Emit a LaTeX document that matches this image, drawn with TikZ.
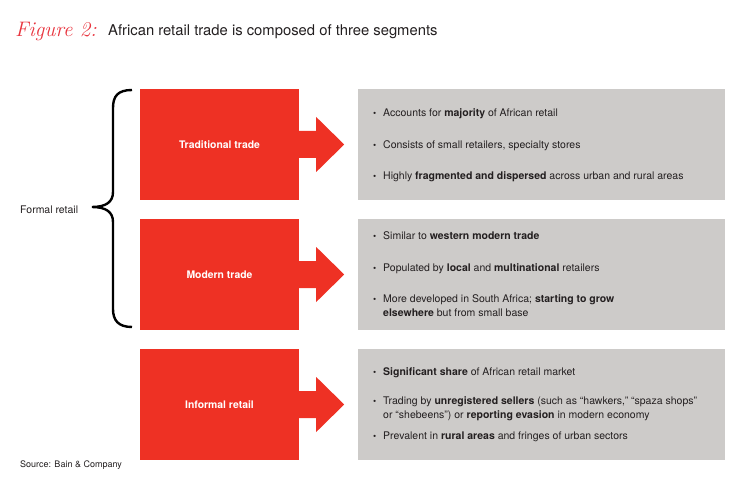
\documentclass[tikz,border=0pt]{standalone}
\usepackage{fontspec}
\newfontfamily\heros{TeX Gyre Heros}
\definecolor{bainred}{HTML}{EE3124}
\definecolor{boxgray}{HTML}{CDCBC9}
\definecolor{textdark}{HTML}{231F20}
\definecolor{figred}{HTML}{E8343E}
\newcommand\segarrow[1]{%
  \fill[bainred] ([yshift=13.5pt,xshift=-1pt]#1.east) -- ([yshift=13.5pt,xshift=17pt]#1.east)
    -- ([yshift=27.5pt,xshift=17pt]#1.east) -- ([xshift=45pt]#1.east)
    -- ([yshift=-27.5pt,xshift=17pt]#1.east) -- ([yshift=-13.5pt,xshift=17pt]#1.east)
    -- ([yshift=-13.5pt,xshift=-1pt]#1.east) -- cycle;}
\newcommand\bul{\makebox[10pt][l]{\fontsize{9}{9}\selectfont\raisebox{0.3pt}{\textbullet}}}
\tikzset{
  seg/.style={fill=bainred, minimum width=159pt, minimum height=111pt, inner sep=0pt,
    text=white, font=\heros\bfseries\fontsize{10.4}{12}\selectfont},
  info/.style={fill=boxgray, minimum width=367pt, minimum height=111pt, inner sep=0pt},
  bl/.style={anchor=base west, inner sep=0pt, text=textdark, font=\heros\fontsize{10.5}{12}\selectfont},
  plain/.style={anchor=base west, inner sep=0pt, text=textdark},
}
\begin{document}
\begin{tikzpicture}[x=1pt,y=-1pt]
\useasboundingbox (0,0) rectangle (750,492);
% title
\node[plain, text=figred, font=\itshape\fontsize{21}{21}\selectfont] (fig) at (15,37) {Figure 2:};
\node[plain, font=\heros\fontsize{14.8}{16}\selectfont] (title) at (108,36) {African retail trade is composed of three segments};
% segment boxes
\node[seg] (t1) at (219.5,144.5) {Traditional trade};
\node[seg] (t2) at (219.5,274.5) {Modern trade};
\node[seg] (t3) at (219.5,404.5) {Informal retail};
\segarrow{t1}
\segarrow{t2}
\segarrow{t3}
% info boxes
\node[info] (g1) at (541.5,144.5) {};
\node[info] (g2) at (541.5,274.5) {};
\node[info] (g3) at (541.5,404.5) {};
% box 1 text
\node[bl] (a1) at (373,116.5) {\bul Accounts for \textbf{majority} of African retail};
\node[bl] (a2) at (373,148.5) {\bul Consists of small retailers, specialty stores};
\node[bl] (a3) at (373,179.5) {\bul Highly \textbf{fragmented and dispersed} across urban and rural areas};
% box 2 text
\node[bl] (b1) at (373,239.5) {\bul Similar to \textbf{western modern trade}};
\node[bl] (b2) at (373,271.5) {\bul Populated by \textbf{local} and \textbf{multinational} retailers};
\node[bl] (b3) at (373,302.5) {\bul More developed in South Africa; \textbf{starting to grow}};
\node[bl] (b4) at (373,316.5) {\hspace*{10pt}\textbf{elsewhere} but from small base};
% box 3 text
\node[bl] (c1) at (373,375.5) {\bul \textbf{Significant share} of African retail market};
\node[bl] (c2) at (373,404.5) {\bul Trading by \textbf{unregistered sellers} (such as “hawkers,” “spaza shops”};
\node[bl] (c3) at (373,418.5) {\hspace*{10pt}or “shebeens”) or \textbf{reporting evasion} in modern economy};
\node[bl] (c4) at (373,439.5) {\bul Prevalent in \textbf{rural areas} and fringes of urban sectors};
% brace
\draw[line width=2.4pt, black] (132,90) .. controls (118,90) and (113,96) .. (113,108)
  -- (113,192) .. controls (113,202) and (106,207) .. (92,207)
  .. controls (106,207) and (113,212) .. (113,222)
  -- (113,309) .. controls (113,320) and (118,327) .. (132,327);
\node[plain, font=\heros\fontsize{10.5}{12}\selectfont] (formal) at (20,213.5) {Formal retail};
% source
\node[plain, font=\heros\fontsize{9}{10}\selectfont] (src) at (20,467) {Source: Bain \& Company};
\end{tikzpicture}
\end{document}
